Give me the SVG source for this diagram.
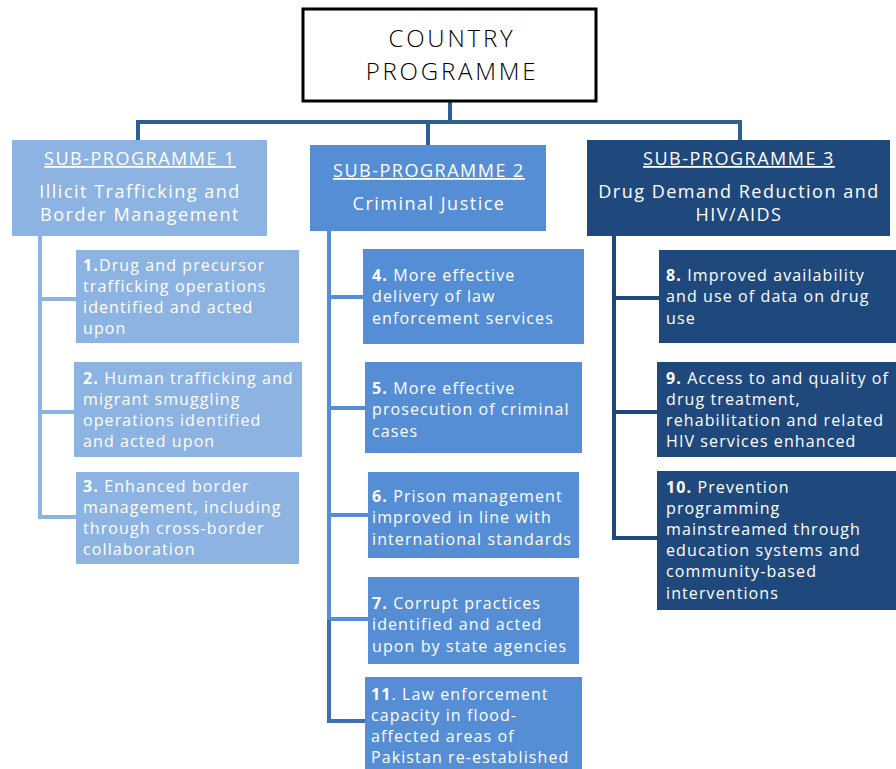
<svg xmlns="http://www.w3.org/2000/svg" width="896" height="769" viewBox="0 0 896 769">
<style>
.t{font-family:"Open Sans",Lato,"Liberation Sans",sans-serif;fill:#fff;font-size:16px;letter-spacing:1.1px}
.h{font-family:"Open Sans",Lato,"Liberation Sans",sans-serif;fill:#fff;font-size:18px;letter-spacing:1.5px;text-anchor:middle}
.u{text-decoration:underline}
.b{font-weight:bold}
.c1{fill:#8db3e2}.c2{fill:#558ed5}.c3{fill:#1f497d}
.l1{stroke:#8db3e2}.l2{stroke:#558ed5}.l3{stroke:#1f497d}
.ln{fill:none;stroke-width:4}
.top{font-family:"Open Sans",Lato,sans-serif;font-weight:300;font-size:24px;letter-spacing:2.8px;text-anchor:middle;fill:#000}
</style>
<rect width="896" height="769" fill="#fff"/>
<g id="connectors">
<path class="ln" stroke="#2e5f93" d="M450 101V122M138 140V122H740V140M428 122V145"/>
<path class="ln l1" d="M40 236V517H76M40 299H76M40 412H74"/>
<path class="ln l2" d="M329 231V622M329 297H363M329 408H365M329 515H368M329 619H368"/>
<path class="ln" stroke="#3f70b3" d="M329 620V721H365"/>
<path class="ln l3" d="M614 236V538H657M614 298H659M614 412H657"/>
</g>
<g id="country">
<rect x="303" y="9" width="293" height="92" fill="#fff" stroke="#000" stroke-width="3"/>
<text class="top" x="452" y="47">COUNTRY</text>
<text class="top" x="452" y="80">PROGRAMME</text>
</g>
<g id="sub1">
<rect class="c1" x="12" y="140" width="255" height="96"/>
<text class="h u" x="140" y="165">SUB-PROGRAMME 1</text>
<text class="h" x="140" y="198">Illicit Trafficking and</text>
<text class="h" x="140" y="221">Border Management</text>
</g>
<g id="sub2">
<rect class="c2" x="310" y="145" width="236" height="86"/>
<text class="h u" x="429" y="177">SUB-PROGRAMME 2</text>
<text class="h" x="429" y="210">Criminal Justice</text>
</g>
<g id="sub3">
<rect class="c3" x="587" y="140" width="303" height="96"/>
<text class="h u" x="739" y="165">SUB-PROGRAMME 3</text>
<text class="h" x="739" y="198">Drug Demand Reduction and</text>
<text class="h" x="739" y="221">HIV/AIDS</text>
</g>
<g id="o1">
<rect class="c1" x="76" y="250" width="223" height="93"/>
<text class="t" x="83" y="271"><tspan class="b">1.</tspan>Drug and precursor</text>
<text class="t" x="83" y="292">trafficking operations</text>
<text class="t" x="83" y="313">identified and acted</text>
<text class="t" x="83" y="334">upon</text>
</g>
<g id="o2">
<rect class="c1" x="74" y="362" width="228" height="95"/>
<text class="t" x="83" y="384"><tspan class="b">2.</tspan> Human trafficking and</text>
<text class="t" x="83" y="405">migrant smuggling</text>
<text class="t" x="83" y="426">operations identified</text>
<text class="t" x="83" y="447">and acted upon</text>
</g>
<g id="o3">
<rect class="c1" x="76" y="472" width="223" height="92"/>
<text class="t" x="83" y="492"><tspan class="b">3.</tspan> Enhanced border</text>
<text class="t" x="83" y="513">management, including</text>
<text class="t" x="83" y="534">through cross-border</text>
<text class="t" x="83" y="555">collaboration</text>
</g>
<g id="o4">
<rect class="c2" x="363" y="249" width="221" height="95"/>
<text class="t" x="372" y="281"><tspan class="b">4.</tspan> More effective</text>
<text class="t" x="372" y="302">delivery of law</text>
<text class="t" x="372" y="324">enforcement services</text>
</g>
<g id="o5">
<rect class="c2" x="365" y="362" width="217" height="91"/>
<text class="t" x="372" y="394"><tspan class="b">5.</tspan> More effective</text>
<text class="t" x="372" y="415">prosecution of criminal</text>
<text class="t" x="372" y="437">cases</text>
</g>
<g id="o6">
<rect class="c2" x="368" y="472" width="211" height="86"/>
<text class="t" x="372" y="502"><tspan class="b">6.</tspan> Prison management</text>
<text class="t" x="372" y="523">improved in line with</text>
<text class="t" x="372" y="545">international standards</text>
</g>
<g id="o7">
<rect class="c2" x="368" y="577" width="211" height="87"/>
<text class="t" x="372" y="609"><tspan class="b">7.</tspan> Corrupt practices</text>
<text class="t" x="372" y="630">identified and acted</text>
<text class="t" x="372" y="652">upon by state  agencies</text>
</g>
<g id="o11">
<rect class="c2" x="365" y="677" width="217" height="92"/>
<text class="t" x="371" y="700"><tspan class="b">11</tspan>. Law enforcement</text>
<text class="t" x="371" y="721">capacity in flood-</text>
<text class="t" x="371" y="742">affected areas of</text>
<text class="t" x="371" y="763">Pakistan re-established</text>
</g>
<g id="o8">
<rect class="c3" x="659" y="250" width="237" height="93"/>
<text class="t" x="666" y="281"><tspan class="b">8.</tspan> Improved availability</text>
<text class="t" x="666" y="302">and use of data on drug</text>
<text class="t" x="666" y="324">use</text>
</g>
<g id="o9">
<rect class="c3" x="657" y="362" width="239" height="95"/>
<text class="t" x="666" y="384"><tspan class="b">9.</tspan> Access to and quality of</text>
<text class="t" x="666" y="405">drug treatment,</text>
<text class="t" x="666" y="426">rehabilitation and related</text>
<text class="t" x="666" y="447">HIV services  enhanced</text>
</g>
<g id="o10">
<rect class="c3" x="657" y="471" width="239" height="139"/>
<text class="t" x="666" y="493"><tspan class="b">10.</tspan> Prevention</text>
<text class="t" x="666" y="514">programming</text>
<text class="t" x="666" y="535">mainstreamed through</text>
<text class="t" x="666" y="556">education systems and</text>
<text class="t" x="666" y="577">community-based</text>
<text class="t" x="666" y="599">interventions</text>
</g>
</svg>
